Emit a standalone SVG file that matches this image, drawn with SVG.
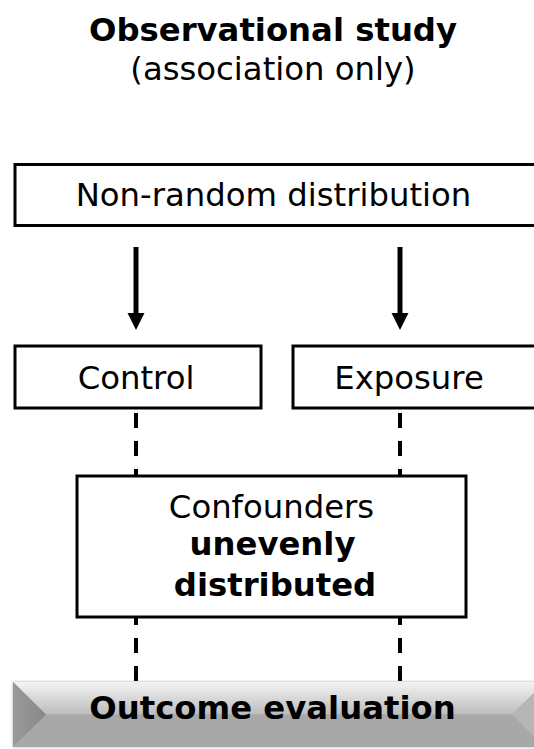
<svg xmlns="http://www.w3.org/2000/svg" width="534" height="749" viewBox="0 0 534 749">
  <style>
    text { font-family: "DejaVu Sans", Verdana, sans-serif; font-size: 32.3px; fill: #000; text-anchor: middle; }
    .b { font-weight: bold; }
    .box { fill: #fff; stroke: #000; stroke-width: 3; }
    .arrow { stroke: #000; stroke-width: 5; fill: none; }
    .dash { stroke: #000; stroke-width: 4; fill: none; stroke-dasharray: 15 13; }
  </style>
  <defs>
    <linearGradient id="topBevel" x1="0" y1="0" x2="0" y2="1">
      <stop offset="0" stop-color="#f4f4f4"/>
      <stop offset="1" stop-color="#bcbcbc"/>
    </linearGradient>
    <linearGradient id="leftBevel" x1="0" y1="0" x2="1" y2="0">
      <stop offset="0" stop-color="#9a9a9a"/>
      <stop offset="1" stop-color="#888888"/>
    </linearGradient>
    <filter id="shadow" x="-5%" y="-30%" width="110%" height="160%">
      <feGaussianBlur in="SourceAlpha" stdDeviation="1.5"/>
      <feComponentTransfer><feFuncA type="linear" slope="0.35"/></feComponentTransfer>
      <feMerge><feMergeNode/><feMergeNode in="SourceGraphic"/></feMerge>
    </filter>
  </defs>

  <g id="title">
    <text class="b" x="273" y="41">Observational study</text>
    <text x="273" y="80">(association only)</text>
  </g>

  <g id="connectors">
    <line class="arrow" x1="136" y1="247" x2="136" y2="314"/>
    <path d="M127.5,313 L144.5,313 L136,330 Z" fill="#000"/>
    <line class="arrow" x1="400" y1="247" x2="400" y2="314"/>
    <path d="M391.5,313 L408.5,313 L400,330 Z" fill="#000"/>
    <line class="dash" x1="136" y1="413" x2="136" y2="476"/>
    <line class="dash" x1="400" y1="413" x2="400" y2="476"/>
    <line class="dash" x1="136" y1="617" x2="136" y2="682" stroke-dashoffset="7"/>
    <line class="dash" x1="400" y1="617" x2="400" y2="682" stroke-dashoffset="7"/>
  </g>

  <g id="nonrandom">
    <rect class="box" x="15" y="164.5" width="540" height="61"/>
    <text x="273.5" y="206">Non-random distribution</text>
  </g>

  <g id="control">
    <rect class="box" x="15" y="346" width="246" height="62"/>
    <text x="136" y="389">Control</text>
  </g>

  <g id="exposure">
    <rect class="box" x="293" y="346" width="262" height="62"/>
    <text x="409" y="389">Exposure</text>
  </g>

  <g id="confounders">
    <rect class="box" x="77" y="476" width="389" height="141"/>
    <text x="271.5" y="518">Confounders</text>
    <text class="b" x="272.5" y="555">unevenly</text>
    <text class="b" x="275" y="596">distributed</text>
  </g>

  <g id="outcome">
    <g filter="url(#shadow)">
      <rect x="13" y="682" width="532" height="65" fill="#aaaaaa"/>
      <polygon points="13,682 545,682 512,714.5 46,714.5" fill="url(#topBevel)"/>
      <polygon points="13,747 46,714.5 512,714.5 545,747" fill="#a8a8a8"/>
      <polygon points="13,682 46,714.5 13,747" fill="url(#leftBevel)"/>
      <polygon points="545,682 512,714.5 545,747" fill="#b6b6b6"/>
    </g>
    <text class="b" x="272.5" y="719">Outcome evaluation</text>
  </g>
</svg>
